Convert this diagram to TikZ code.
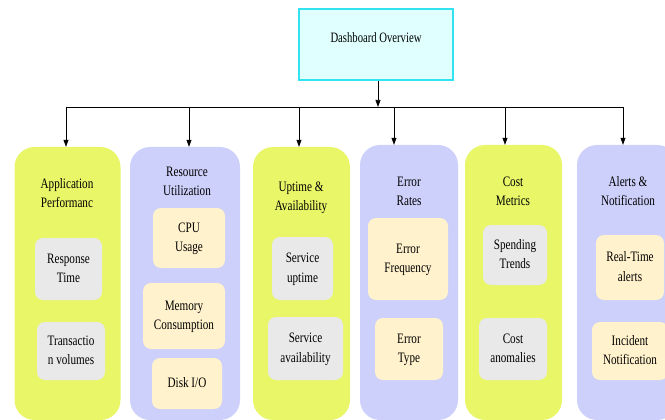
\documentclass[tikz,border=0pt]{standalone}
\usepackage{fontspec}
\setmainfont{Liberation Serif}
\usetikzlibrary{arrows.meta}
\definecolor{ygreen}{RGB}{232,246,104}
\definecolor{lav}{RGB}{204,208,250}
\definecolor{gbox}{RGB}{233,233,233}
\definecolor{beige}{RGB}{255,242,204}
\definecolor{topfill}{RGB}{224,255,255}
\definecolor{topdraw}{RGB}{51,228,240}
\newcommand{\tx}[1]{\scalebox{0.93}[1.2]{\begin{tabular}{@{}c@{}}#1\end{tabular}}}
\tikzset{
  colbox/.style={rounded corners=20pt, inner sep=0pt},
  ybox/.style={colbox, fill=ygreen},
  lbox/.style={colbox, fill=lav},
  innerbox/.style={rounded corners=8pt, inner sep=0pt, font=\fontsize{12}{16.5}\selectfont, text=black},
  gitem/.style={innerbox, fill=gbox},
  bitem/.style={innerbox, fill=beige},
  ttl/.style={inner sep=0pt, font=\fontsize{12}{16.5}\selectfont, text=black},
  arr/.style={-{Triangle[length=7pt,width=5pt]}, line width=0.6pt},
  bus/.style={line width=0.8pt}
}
\begin{document}
\begin{tikzpicture}[x=1pt,y=-1pt]
\useasboundingbox (0,0) rectangle (665,420);
% top node
\node[draw=topdraw, line width=1.8pt, fill=topfill, minimum width=154pt, minimum height=71pt, inner sep=0pt] (top) at (376,44.5) {};
\node[inner sep=0pt, font=\fontsize{11}{14}\selectfont] (toptxt) at (376,38) {\scalebox{0.97}[1.3]{Dashboard Overview}};
% columns
\node[ybox, minimum width=106pt, minimum height=273pt] (c1) at (67.5,283.5) {};
\node[lbox, minimum width=110pt, minimum height=273pt] (c2) at (185,283.5) {};
\node[ybox, minimum width=97pt, minimum height=273pt] (c3) at (301.5,283.5) {};
\node[lbox, minimum width=98pt, minimum height=275pt] (c4) at (409,282.5) {};
\node[ybox, minimum width=97pt, minimum height=275pt] (c5) at (513.5,282.5) {};
\node[lbox, minimum width=100pt, minimum height=275pt] (c6) at (627,282.5) {};
% titles
\node[ttl] (t1) at (67,194) {\tx{Application\\Performanc}};
\node[ttl] (t2) at (187,182) {\tx{Resource\\Utilization}};
\node[ttl] (t3) at (301,197) {\tx{Uptime \&\\Availability}};
\node[ttl] (t4) at (409,192) {\tx{Error\\Rates}};
\node[ttl] (t5) at (513,192) {\tx{Cost\\Metrics}};
\node[ttl] (t6) at (628,192) {\tx{Alerts \&\\Notification}};
% items column 1
\node[gitem, minimum width=67pt, minimum height=62pt] (i11) at (68.5,269) {\tx{Response\\Time}};
\node[gitem, minimum width=68pt, minimum height=58pt] (i12) at (71,351) {\tx{Transactio\\n volumes}};
% column 2
\node[bitem, minimum width=72pt, minimum height=60pt] (i21) at (189,238) {\tx{CPU\\Usage}};
\node[bitem, minimum width=82pt, minimum height=66pt] (i22) at (184,316) {\tx{Memory\\Consumption}};
\node[bitem, minimum width=70pt, minimum height=51pt] (i23) at (187,383.5) {\tx{Disk I/O}};
% column 3
\node[gitem, minimum width=61pt, minimum height=63pt] (i31) at (302.5,268.5) {\tx{Service\\uptime}};
\node[gitem, minimum width=75pt, minimum height=63pt] (i32) at (305.5,348.5) {\tx{Service\\availability}};
% column 4
\node[bitem, minimum width=80pt, minimum height=82pt] (i41) at (408,259) {\tx{Error\\Frequency}};
\node[bitem, minimum width=68pt, minimum height=62pt] (i42) at (409,349) {\tx{Error\\Type}};
% column 5
\node[gitem, minimum width=64pt, minimum height=60pt] (i51) at (515,255) {\tx{Spending\\Trends}};
\node[gitem, minimum width=68pt, minimum height=62pt] (i52) at (513,349) {\tx{Cost\\anomalies}};
% column 6
\node[bitem, minimum width=68pt, minimum height=65pt] (i61) at (630,267.5) {\tx{Real-Time\\alerts}};
\node[bitem, minimum width=76pt, minimum height=58pt] (i62) at (630,351) {\tx{Incident\\Notification}};
% connectors
\coordinate (bj) at (378,107);
\coordinate (bl) at (66,107);
\coordinate (br) at (623,107);
\draw[arr] (top.south -| bj) -- (bj);
\draw[bus] (bl) -- (br);
\draw[arr] (bl) -- (bl |- c1.north);
\draw[arr] (189,107) -- (189,0 |- c2.north);
\draw[arr] (299,107) -- (299,0 |- c3.north);
\draw[arr] (394,107) -- (394,0 |- c4.north);
\draw[arr] (505,107) -- (505,0 |- c5.north);
\draw[arr] (br) -- (br |- c6.north);
\end{tikzpicture}
\end{document}
